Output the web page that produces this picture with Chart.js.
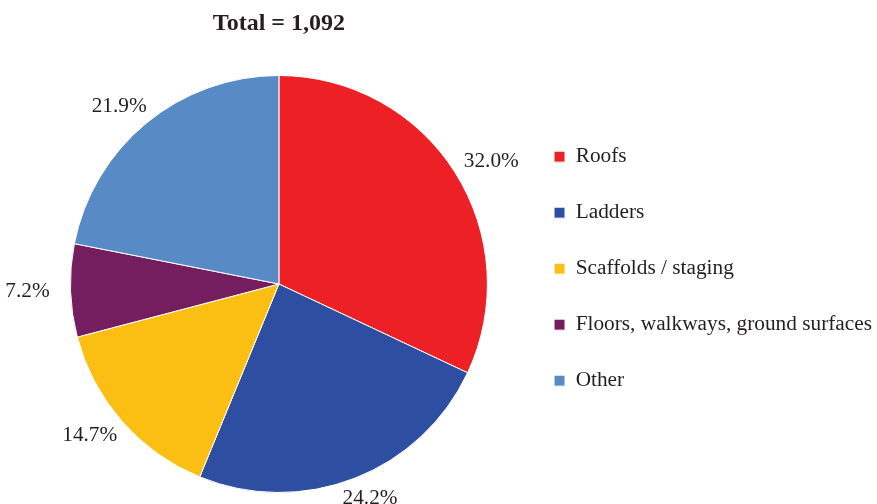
<!DOCTYPE html>
<html>
<head>
<meta charset="utf-8">
<script src="https://cdn.jsdelivr.net/npm/chart.js@4"></script>
<style>
  body { margin: 0; background: #fff; }
  canvas { display: block; }
</style>
</head>
<body>
<canvas id="fallChart" width="877" height="504"></canvas>
<script>
// Data
const categories = ["Roofs", "Ladders", "Scaffolds / staging", "Floors, walkways, ground surfaces", "Other"];
const percents = [32.0, 24.2, 14.7, 7.2, 21.9];
const totalCount = 1092;
const sliceColors = ["#ED2026", "#2E4EA1", "#FBBF13", "#741E5F", "#588AC6"];

const textColor = "#231F20";
const serif = "'Liberation Serif', 'Times New Roman', serif";

// percent labels placed just outside each slice
const outsideLabels = {
  id: "outsideLabels",
  afterDatasetsDraw(chart) {
    const ctx = chart.ctx;
    const meta = chart.getDatasetMeta(0);
    ctx.save();
    ctx.font = "21.3px " + serif;
    ctx.fillStyle = textColor;
    ctx.textAlign = "center";
    ctx.textBaseline = "middle";
    meta.data.forEach((arc, i) => {
      const { x, y, startAngle, endAngle, outerRadius } = arc.getProps(
        ["x", "y", "startAngle", "endAngle", "outerRadius"], true);
      const mid = (startAngle + endAngle) / 2;
      const tx = x + (outerRadius + 43) * Math.cos(mid);
      const ty = y + (outerRadius + 21) * Math.sin(mid);
      ctx.fillText(percents[i].toFixed(1) + "%", tx, ty);
    });
    ctx.restore();
  },
};

const ctx = document.getElementById("fallChart").getContext("2d");

new Chart(ctx, {
  type: "pie",
  data: {
    labels: categories,
    datasets: [
      {
        data: percents,
        backgroundColor: sliceColors,
        borderColor: "#ffffff",
        borderWidth: 1,
      },
    ],
  },
  options: {
    responsive: false,
    animation: false,
    layout: {
      padding: { top: 0, left: 38.5, right: -5, bottom: 11 },
    },
    plugins: {
      title: {
        display: true,
        fullSize: false,
        text: "Total = " + totalCount.toLocaleString("en-US"),
        color: textColor,
        font: { family: serif, size: 24, weight: "bold", lineHeight: 1.2 },
        padding: { top: 9.6, bottom: 36.6 },
      },
      legend: {
        display: true,
        position: "right",
        align: "start",
        // blank title just pushes the items down to where they sit
        title: {
          display: true,
          text: " ",
          font: { size: 10, lineHeight: 1.2 },
          padding: { top: 99.3, bottom: 0 },
        },
        labels: {
          color: textColor,
          font: { family: serif, size: 21.3 },
          boxWidth: 11,
          boxHeight: 11,
          padding: 34.7,
        },
      },
      tooltip: { enabled: false },
    },
  },
  plugins: [outsideLabels],
});
</script>
</body>
</html>
